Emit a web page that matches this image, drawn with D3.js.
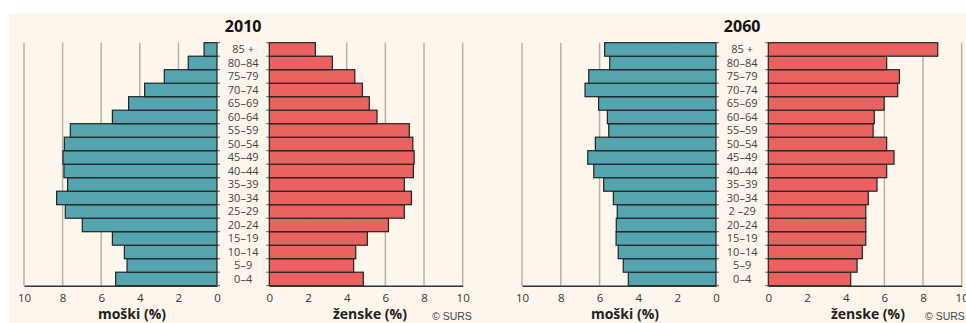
<!DOCTYPE html>
<html>
<head>
<meta charset="utf-8">
<script src="https://cdn.jsdelivr.net/npm/d3@7"></script>
<style>
  body { margin: 0; background: #fff; }
  text { font-family: "Open Sans", "DejaVu Sans", sans-serif; }
</style>
</head>
<body>
<div id="chart"></div>
<script>
// starostne skupine (od spodaj navzgor)
const ages = ["0–4", "5–9", "10–14", "15–19", "20–24", "25–29", "30–34", "35–39", "40–44",
  "45–49", "50–54", "55–59", "60–64", "65–69", "70–74", "75–79", "80–84", "85 +"];
const ages2060 = ["0–4", "5–9", "10–14", "15–19", "20–24", "2 –29", "30–34", "35–39", "40–44",
  "45–49", "50–54", "55–59", "60–64", "65–69", "70–74", "75–79", "80–84", "85 +"];

const male2010 = [5.25, 4.66, 4.80, 5.42, 6.98, 7.86, 8.31, 7.74, 7.93,
  7.98, 7.91, 7.60, 5.42, 4.58, 3.75, 2.73, 1.49, 0.67];
const female2010 = [4.86, 4.36, 4.47, 5.07, 6.16, 6.98, 7.35, 6.98, 7.45,
  7.49, 7.42, 7.24, 5.57, 5.17, 4.81, 4.42, 3.26, 2.38];
const male2060 = [4.52, 4.78, 5.04, 5.15, 5.14, 5.09, 5.29, 5.79, 6.30,
  6.61, 6.22, 5.53, 5.60, 6.05, 6.75, 6.56, 5.48, 5.74];
const female2060 = [4.26, 4.59, 4.86, 5.04, 5.04, 5.04, 5.17, 5.62, 6.12,
  6.50, 6.12, 5.42, 5.48, 5.99, 6.69, 6.78, 6.12, 8.76];

const xTicks = [0, 2, 4, 6, 8, 10];

const W = 966, H = 323;
const svg = d3.select("#chart").append("svg")
  .attr("width", W).attr("height", H);

// ozadje
svg.append("rect")
  .attr("x", 9).attr("y", 13)
  .attr("width", W - 9).attr("height", H - 13)
  .attr("fill", "#fdf6ec");

const yTop = 42.7, yBottom = 285.7;

function drawPyramid(cfg) {
  const g = svg.append("g");

  const y = d3.scaleBand()
    .domain(cfg.labels.slice().reverse())
    .range([yTop, yBottom])
    .padding(0);

  const xM = d3.scaleLinear().domain([10, 0]).range([cfg.mLeft, cfg.mRight]);
  const xF = d3.scaleLinear().domain([0, 10]).range([cfg.fLeft, cfg.fRight]);

  // mreža
  [xM, xF].forEach(sc => {
    g.selectAll(null)
      .data(xTicks.filter(t => t > 0))
      .enter().append("line")
      .attr("x1", d => sc(d)).attr("x2", d => sc(d))
      .attr("y1", yTop).attr("y2", yBottom)
      .attr("stroke", "#b5b0a8")
      .attr("stroke-width", 1.5);
  });

  const rows = cfg.labels.map((a, i) => ({ age: a, m: cfg.male[i], f: cfg.female[i] }));

  // moški
  g.selectAll(null)
    .data(rows)
    .enter().append("rect")
    .attr("x", d => xM(d.m))
    .attr("y", d => y(d.age))
    .attr("width", d => xM(0) - xM(d.m))
    .attr("height", y.bandwidth())
    .attr("fill", "#55a5b1")
    .attr("stroke", "#222")
    .attr("stroke-width", 1.2);

  // ženske
  g.selectAll(null)
    .data(rows)
    .enter().append("rect")
    .attr("x", xF(0))
    .attr("y", d => y(d.age))
    .attr("width", d => xF(d.f) - xF(0))
    .attr("height", y.bandwidth())
    .attr("fill", "#e9625f")
    .attr("stroke", "#222")
    .attr("stroke-width", 1.2);

  // osi
  const axM = g.append("g")
    .attr("transform", `translate(0,${yBottom})`)
    .call(d3.axisBottom(xM).tickValues(xTicks).tickSize(0).tickPadding(8));
  const axF = g.append("g")
    .attr("transform", `translate(0,${yBottom})`)
    .call(d3.axisBottom(xF).tickValues(xTicks).tickSize(0).tickPadding(8));
  [axM, axF].forEach(ax => {
    ax.select(".domain").attr("stroke", "#333").attr("stroke-width", 1.5);
    ax.selectAll("text").attr("font-size", 11.5).attr("fill", "#333")
      .style("font-family", "'Open Sans', sans-serif");
  });

  // kratke oznake ob robovih vrstic
  const bounds = d3.range(cfg.labels.length + 1).map(i => yTop + i * y.step());
  g.selectAll(null).data(bounds).enter().append("line")
    .attr("x1", xM(0)).attr("x2", xM(0) + 3)
    .attr("y1", d => d).attr("y2", d => d)
    .attr("stroke", "#555").attr("stroke-width", 1);
  g.selectAll(null).data(bounds).enter().append("line")
    .attr("x1", xF(0) - 3).attr("x2", xF(0))
    .attr("y1", d => d).attr("y2", d => d)
    .attr("stroke", "#555").attr("stroke-width", 1);

  // starostne skupine
  const mid = (xM(0) + xF(0)) / 2;
  g.selectAll(null)
    .data(rows)
    .enter().append("text")
    .attr("x", mid)
    .attr("y", d => y(d.age) + y.bandwidth() / 2)
    .attr("dy", "0.35em")
    .attr("text-anchor", "middle")
    .attr("font-size", 11)
    .attr("fill", "#444")
    .text(d => d.age);

  g.append("text")
    .attr("x", mid).attr("y", 32)
    .attr("text-anchor", "middle")
    .attr("font-size", 16).attr("font-weight", "bold")
    .attr("fill", "#111")
    .text(cfg.title);

  g.append("text")
    .attr("x", cfg.mTitleX).attr("y", 319)
    .attr("text-anchor", "middle")
    .attr("font-size", 14).attr("font-weight", "bold").attr("fill", "#222")
    .text("moški (%)");

  g.append("text")
    .attr("x", cfg.fTitleX).attr("y", 319)
    .attr("text-anchor", "middle")
    .attr("font-size", 14).attr("font-weight", "bold").attr("fill", "#222")
    .text("ženske (%)");

  g.append("text")
    .attr("x", cfg.srcX).attr("y", 320)
    .attr("font-size", 10.5).attr("fill", "#444")
    .style("font-family", "'Liberation Sans', Arial, sans-serif")
    .text("© SURS");
}

drawPyramid({
  title: "2010", labels: ages, male: male2010, female: female2010,
  mLeft: 24, mRight: 217, fLeft: 269.3, fRight: 462.7,
  mTitleX: 132, fTitleX: 370, srcX: 432
});

drawPyramid({
  title: "2060", labels: ages2060, male: male2060, female: female2060,
  mLeft: 522, mRight: 716, fLeft: 768.3, fRight: 961.7,
  mTitleX: 625, fTitleX: 868, srcX: 925
});
</script>
</body>
</html>
